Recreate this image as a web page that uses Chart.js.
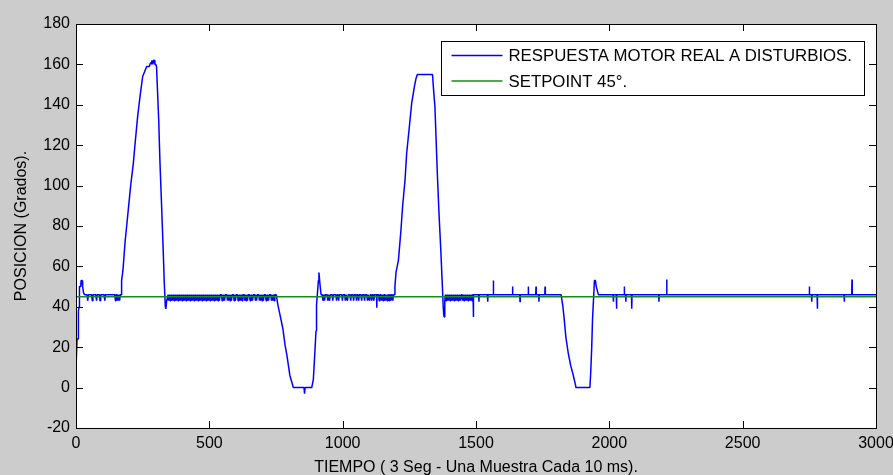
<!DOCTYPE html>
<html>
<head>
<meta charset="utf-8">
<script src="https://cdn.jsdelivr.net/npm/chart.js@4.4.0/dist/chart.umd.min.js"></script>
<style>
  html, body { margin: 0; padding: 0; background: #cccccc; }
</style>
</head>
<body>
<canvas id="respuestaChart" width="893" height="475"></canvas>
<script>
// Main trajectory of the motor response (time in samples, position in degrees)
const tiempo = [
  0, 3, 4, 8, 9, 12, 13, 18, 19, 23, 25, 28, 32,
  169, 171, 176, 184, 190, 196, 205, 215, 221, 231, 240, 250, 259, 265, 275, 280, 282, 285, 288, 291, 294, 296, 299, 302, 305, 310, 315, 321, 327, 331, 335, 337, 340, 346,
  750, 752, 757, 765, 776, 784, 791, 802, 813, 815, 855, 857, 859, 884, 890, 896, 900, 902, 905, 909, 911, 915, 919,
  1194, 1196, 1200, 1209, 1218, 1225, 1234, 1240, 1250, 1259, 1269, 1275, 1280, 1337, 1340, 1346, 1355, 1361, 1368, 1374, 1377, 1379, 1381, 1383, 1386,
  1819, 1825, 1830, 1837, 1846, 1855, 1865, 1872, 1875, 1927, 1930, 1934, 1937, 1942, 1944, 1948, 1951, 1955, 1959,
  3000,
];
const posicion = [
  10, 10, 24, 24, 38, 40, 50, 50, 53, 53, 50, 47, 46,
  46, 53, 58, 72, 80, 88, 100, 111, 120, 134, 144, 154, 157, 159, 159, 161, 160, 162, 160, 162, 162, 160, 160, 159, 149, 133, 111, 90, 68, 52, 40, 39, 43, 46,
  46, 45, 41, 36, 29, 21, 16, 6, 1, 0, 0, -3, 0, 0, 4, 18, 28, 41, 46, 53, 57, 51, 46,
  46, 50, 57, 63, 77, 90, 103, 116, 129, 141, 149, 153, 155, 155, 149, 139, 106, 87, 68, 50, 40, 36, 35, 43, 46,
  46, 41, 35, 25, 17, 11, 6, 2, 0, 0, 7, 20, 34, 47, 53, 53, 50, 48, 46,
  46,
];

// resting level of the motor around the setpoint
const nivelBase = 46;

// isolated disturbance spikes
const picoT = [1128, 1490, 1511, 1544, 1565, 1637, 1665, 1696, 1725, 1736, 1759,
  2015, 2027, 2056, 2062, 2084, 2186, 2215, 2750, 2759, 2780, 2881, 2910];
const picoY = [39.5, 35, 42.5, 42.5, 53, 50, 42.5, 50, 50, 42.5, 50,
  42.5, 39, 50, 42.5, 39, 42.5, 53.5, 50, 42.5, 39, 42.5, 53.5];

// dense encoder noise (small drops to ruidoY)
const ruidoY = 43;
const ruidoT = [
  44, 61, 77, 90, 108, 148, 152, 156, 160, 164,
  348, 353, 358, 363, 368, 373, 378, 383, 388, 393, 398, 403, 408, 413, 418, 423, 428, 433, 438, 443,
  448, 453, 458, 463, 468, 473, 478, 483, 488, 493, 498, 503, 508, 513, 518, 523, 528,
  533, 538, 548, 553, 558, 568, 573, 578, 583, 593, 598, 608, 613, 618, 623, 633, 638, 643,
  653, 658, 663, 673, 678, 688, 693, 698, 703, 713, 718, 723, 733, 738, 743,
  926, 932, 944, 951, 963, 977, 985, 999, 1010, 1018, 1030, 1041, 1052, 1060, 1071, 1082,
  1093, 1101, 1109, 1117, 1137, 1146, 1152, 1160, 1167, 1174, 1181, 1188,
  1388, 1393, 1398, 1403, 1408, 1413, 1418, 1423, 1428, 1433, 1438, 1443, 1450, 1455,
  1460, 1465, 1470, 1475, 1480, 1485,
];

const setpointT = [0, 3000];
const setpointY = [45, 45];

const etiquetas = ["RESPUESTA MOTOR REAL A DISTURBIOS.", "SETPOINT 45°."];
const colores = ["#0000ff", "#1a8a1a"];

const fuente = "'Liberation Sans', Arial, sans-serif";

function construirRespuesta() {
  const pts = tiempo.map((t, i) => ({ x: t, y: posicion[i] }));
  const agregarPico = (t, y, ancho) => {
    pts.push({ x: t - ancho, y: nivelBase }, { x: t, y: y }, { x: t + ancho, y: nivelBase });
  };
  picoT.forEach((t, i) => agregarPico(t, picoY[i], 1));
  // noise ticks touch each other so the band reads as solid
  ruidoT.forEach((t) => agregarPico(t, ruidoY, 2.5));
  // stable sort keeps the spike triplets in order
  return pts.sort((a, b) => a.x - b.x);
}

// gray figure + white axes background
const fondoPlugin = {
  id: "fondo",
  beforeDraw(chart) {
    const { ctx, chartArea: a } = chart;
    ctx.save();
    ctx.fillStyle = "#cccccc";
    ctx.fillRect(0, 0, chart.width, chart.height);
    ctx.fillStyle = "#ffffff";
    ctx.fillRect(a.left, a.top, a.right - a.left, a.bottom - a.top);
    ctx.restore();
  },
};

// MATLAB style box with inward ticks and the legend
const cajaPlugin = {
  id: "caja",
  afterDraw(chart) {
    const { ctx, chartArea: a, scales } = chart;
    const largo = 7;
    ctx.save();
    ctx.strokeStyle = "#000000";
    ctx.lineWidth = 1;
    ctx.beginPath();
    scales.x.ticks.forEach((tk) => {
      const px = Math.round(scales.x.getPixelForValue(tk.value)) + 0.5;
      ctx.moveTo(px, a.bottom);
      ctx.lineTo(px, a.bottom - largo);
      ctx.moveTo(px, a.top);
      ctx.lineTo(px, a.top + largo);
    });
    scales.y.ticks.forEach((tk) => {
      const py = Math.round(scales.y.getPixelForValue(tk.value)) + 0.5;
      ctx.moveTo(a.left, py);
      ctx.lineTo(a.left + largo, py);
      ctx.moveTo(a.right, py);
      ctx.lineTo(a.right - largo, py);
    });
    ctx.stroke();
    ctx.strokeRect(Math.round(a.left) + 0.5, Math.round(a.top) + 0.5,
      Math.round(a.right - a.left), Math.round(a.bottom - a.top));

    // legend
    const lx = Math.round(a.right) - 435 + 0.5;
    const ly = Math.round(a.top) + 17 + 0.5;
    ctx.fillStyle = "#ffffff";
    ctx.fillRect(lx, ly, 423, 54);
    ctx.strokeRect(lx, ly, 423, 54);
    ctx.font = "16.8px " + fuente;
    ctx.textBaseline = "middle";
    const filas = [14, 39.5];
    chart.data.datasets.forEach((ds, i) => {
      const y = ly + filas[i];
      ctx.strokeStyle = ds.borderColor;
      ctx.lineWidth = 1.5;
      ctx.beginPath();
      ctx.moveTo(lx + 10, y);
      ctx.lineTo(lx + 61, y);
      ctx.stroke();
      ctx.fillStyle = "#000000";
      ctx.fillText(ds.label, lx + 67, y + 1);
    });
    ctx.restore();
  },
};

const ctx = document.getElementById("respuestaChart").getContext("2d");
new Chart(ctx, {
  type: "line",
  data: {
    datasets: [
      {
        label: etiquetas[0],
        data: construirRespuesta(),
        borderColor: colores[0],
        borderWidth: 1.5,
        borderJoinStyle: "bevel",
        pointRadius: 0,
        tension: 0,
        order: 2,
      },
      {
        label: etiquetas[1],
        data: setpointT.map((t, i) => ({ x: t, y: setpointY[i] })),
        borderColor: colores[1],
        borderWidth: 1.5,
        pointRadius: 0,
        tension: 0,
        order: 1,
      },
    ],
  },
  options: {
    responsive: false,
    animation: false,
    layout: { padding: { top: 24, right: 17, left: 0, bottom: 0 } },
    plugins: {
      legend: { display: false },
      tooltip: { enabled: false },
    },
    scales: {
      x: {
        type: "linear",
        min: 0,
        max: 3000,
        grid: { display: false, drawTicks: false },
        border: { display: false },
        ticks: {
          stepSize: 500,
          padding: 6,
          maxRotation: 0,
          color: "#000000",
          font: { family: fuente, size: 16 },
          callback: (v) => String(v),
        },
        title: {
          display: true,
          text: "TIEMPO ( 3 Seg - Una Muestra Cada 10 ms).",
          color: "#000000",
          font: { family: fuente, size: 16 },
          padding: { top: 0, bottom: -2 },
        },
        afterFit: (s) => {
          s.height = 47;
          s.paddingLeft = 0;
          s.paddingRight = 0;
        },
      },
      y: {
        min: -20,
        max: 180,
        grid: { display: false, drawTicks: false },
        border: { display: false },
        ticks: {
          stepSize: 20,
          padding: 6,
          color: "#000000",
          font: { family: fuente, size: 16 },
          callback: (v) => String(v),
        },
        title: {
          display: true,
          text: "POSICION (Grados).",
          color: "#000000",
          font: { family: fuente, size: 16 },
          padding: { top: 12, bottom: 0 },
        },
        afterFit: (s) => {
          s.width = 76;
        },
      },
    },
  },
  plugins: [fondoPlugin, cajaPlugin],
});
</script>
</body>
</html>
